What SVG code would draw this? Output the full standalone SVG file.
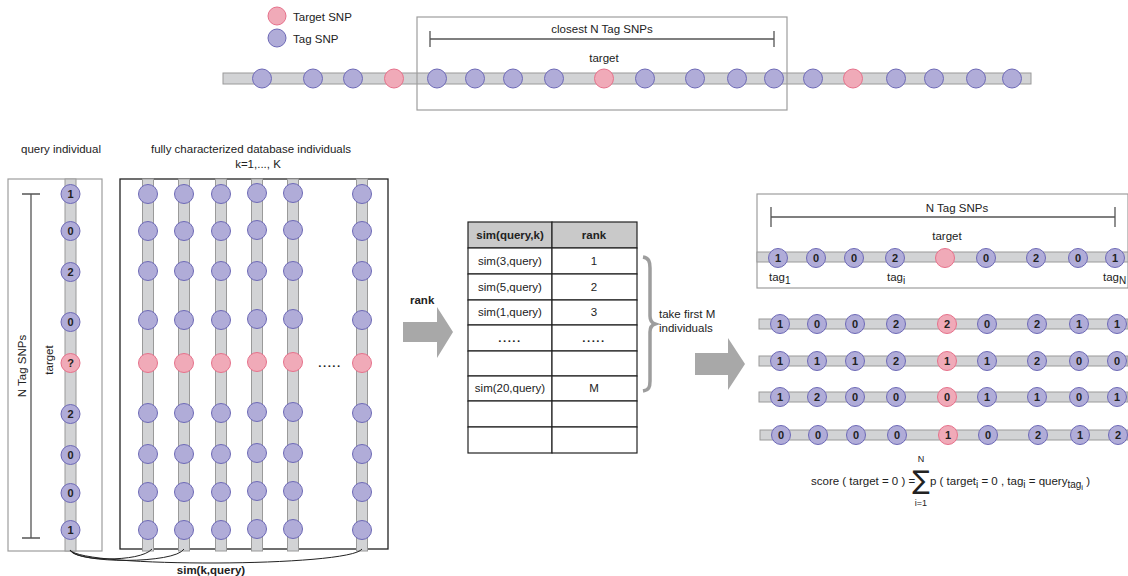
<svg xmlns="http://www.w3.org/2000/svg" width="1128" height="576" viewBox="0 0 1128 576">
<style>
text{font-family:"Liberation Sans",Arial,sans-serif;fill:#222;font-size:11.5px}
.bar{fill:#d2d3d5;stroke:#9a9a9a;stroke-width:1}
.tag{fill:#b0acd8;stroke:#6d69b6;stroke-width:1}
.tgt{fill:#f0aab8;stroke:#e6718b;stroke-width:1}
text.num{font-weight:bold;font-size:11px;text-anchor:middle}
.c{text-anchor:middle}
.b{font-weight:bold}
.gbox{fill:none;stroke:#9d9d9d;stroke-width:1.2}
.ln{fill:none;stroke:#555;stroke-width:1.3}
.cell{fill:#fff;stroke:#222;stroke-width:1.2}
.arrow{fill:#a8a8a8}
.sub{font-size:10px}
</style>
<rect width="1128" height="576" fill="#fff"/>

<g id="legend">
<circle class="tgt" cx="277" cy="16" r="9"/>
<text x="293" y="20.5">Target SNP</text>
<circle class="tag" cx="277" cy="38" r="9"/>
<text x="293" y="42.5">Tag SNP</text>
</g>

<g id="top-chromosome">
<rect class="bar" x="223" y="73" width="808" height="11"/>
<circle class="tag" cx="262" cy="78.5" r="9.5"/>
<circle class="tag" cx="313" cy="78.5" r="9.5"/>
<circle class="tag" cx="353" cy="78.5" r="9.5"/>
<circle class="tgt" cx="394" cy="78.5" r="9.5"/>
<circle class="tag" cx="437" cy="78.5" r="9.5"/>
<circle class="tag" cx="475" cy="78.5" r="9.5"/>
<circle class="tag" cx="513" cy="78.5" r="9.5"/>
<circle class="tag" cx="554" cy="78.5" r="9.5"/>
<circle class="tgt" cx="604" cy="78.5" r="9.5"/>
<circle class="tag" cx="645" cy="78.5" r="9.5"/>
<circle class="tag" cx="695" cy="78.5" r="9.5"/>
<circle class="tag" cx="737" cy="78.5" r="9.5"/>
<circle class="tag" cx="774" cy="78.5" r="9.5"/>
<circle class="tag" cx="813" cy="78.5" r="9.5"/>
<circle class="tgt" cx="853" cy="78.5" r="9.5"/>
<circle class="tag" cx="896" cy="78.5" r="9.5"/>
<circle class="tag" cx="934" cy="78.5" r="9.5"/>
<circle class="tag" cx="976" cy="78.5" r="9.5"/>
<circle class="tag" cx="1012" cy="78.5" r="9.5"/>
</g>

<g id="window">
<rect class="gbox" x="417" y="17" width="370" height="93"/>
<text class="c" x="602" y="33">closest N Tag SNPs</text>
<path class="ln" d="M430,39H774M430,31V47M774,31V47"/>
<text class="c" x="604" y="62">target</text>
</g>

<g id="query">
<text class="c" x="61" y="153">query individual</text>
<rect class="gbox" x="8" y="179" width="94" height="372"/>
<path class="ln" d="M31,194V538M22,194H40M22,538H40"/>
<text class="c" transform="translate(26,366) rotate(-90)">N Tag SNPs</text>
<text class="c" transform="translate(53,360) rotate(-90)">target</text>
<rect class="bar" x="65" y="179" width="11" height="372"/>
<circle class="tag" cx="70.5" cy="194" r="9.5"/><text class="num" x="70.5" y="198">1</text>
<circle class="tag" cx="70.5" cy="231" r="9.5"/><text class="num" x="70.5" y="235">0</text>
<circle class="tag" cx="70.5" cy="272" r="9.5"/><text class="num" x="70.5" y="276">2</text>
<circle class="tag" cx="70.5" cy="322" r="9.5"/><text class="num" x="70.5" y="326">0</text>
<circle class="tgt" cx="70.5" cy="363" r="9.5"/><text class="num" x="70.5" y="367">?</text>
<circle class="tag" cx="70.5" cy="414" r="9.5"/><text class="num" x="70.5" y="418">2</text>
<circle class="tag" cx="70.5" cy="455" r="9.5"/><text class="num" x="70.5" y="459">0</text>
<circle class="tag" cx="70.5" cy="493" r="9.5"/><text class="num" x="70.5" y="497">0</text>
<circle class="tag" cx="70.5" cy="530" r="9.5"/><text class="num" x="70.5" y="534">1</text>
</g>

<g id="database">
<text class="c" x="251" y="153">fully characterized database individuals</text>
<text class="c" x="258" y="168">k=1,..., K</text>
<rect x="120" y="179" width="268" height="370" fill="none" stroke="#222" stroke-width="1.3"/>
<g id="db-col1">
<rect class="bar" x="142.5" y="179" width="11" height="372"/>
<circle class="tag" cx="148" cy="194" r="9.5"/><circle class="tag" cx="148" cy="231" r="9.5"/><circle class="tag" cx="148" cy="271" r="9.5"/><circle class="tag" cx="148" cy="320" r="9.5"/><circle class="tgt" cx="148" cy="363" r="9.5"/><circle class="tag" cx="148" cy="413" r="9.5"/><circle class="tag" cx="148" cy="454" r="9.5"/><circle class="tag" cx="148" cy="492" r="9.5"/><circle class="tag" cx="148" cy="530" r="9.5"/>
</g>
<g id="db-col2">
<rect class="bar" x="178.5" y="179" width="11" height="372"/>
<circle class="tag" cx="184" cy="194" r="9.5"/><circle class="tag" cx="184" cy="231" r="9.5"/><circle class="tag" cx="184" cy="271" r="9.5"/><circle class="tag" cx="184" cy="320" r="9.5"/><circle class="tgt" cx="184" cy="363" r="9.5"/><circle class="tag" cx="184" cy="413" r="9.5"/><circle class="tag" cx="184" cy="454" r="9.5"/><circle class="tag" cx="184" cy="492" r="9.5"/><circle class="tag" cx="184" cy="530" r="9.5"/>
</g>
<g id="db-col3">
<rect class="bar" x="215.5" y="179" width="11" height="372"/>
<circle class="tag" cx="221" cy="194" r="9.5"/><circle class="tag" cx="221" cy="231" r="9.5"/><circle class="tag" cx="221" cy="271" r="9.5"/><circle class="tag" cx="221" cy="320" r="9.5"/><circle class="tgt" cx="221" cy="363" r="9.5"/><circle class="tag" cx="221" cy="413" r="9.5"/><circle class="tag" cx="221" cy="454" r="9.5"/><circle class="tag" cx="221" cy="492" r="9.5"/><circle class="tag" cx="221" cy="530" r="9.5"/>
</g>
<g id="db-col4">
<rect class="bar" x="251.5" y="179" width="11" height="372"/>
<circle class="tag" cx="257" cy="193" r="9.5"/><circle class="tag" cx="257" cy="230" r="9.5"/><circle class="tag" cx="257" cy="271" r="9.5"/><circle class="tag" cx="257" cy="319" r="9.5"/><circle class="tgt" cx="257" cy="362" r="9.5"/><circle class="tag" cx="257" cy="412" r="9.5"/><circle class="tag" cx="257" cy="453" r="9.5"/><circle class="tag" cx="257" cy="491" r="9.5"/><circle class="tag" cx="257" cy="529" r="9.5"/>
</g>
<g id="db-col5">
<rect class="bar" x="287.5" y="179" width="11" height="372"/>
<circle class="tag" cx="293" cy="193" r="9.5"/><circle class="tag" cx="293" cy="230" r="9.5"/><circle class="tag" cx="293" cy="271" r="9.5"/><circle class="tag" cx="293" cy="319" r="9.5"/><circle class="tgt" cx="293" cy="362" r="9.5"/><circle class="tag" cx="293" cy="412" r="9.5"/><circle class="tag" cx="293" cy="453" r="9.5"/><circle class="tag" cx="293" cy="491" r="9.5"/><circle class="tag" cx="293" cy="529" r="9.5"/>
</g>
<g id="db-colK">
<rect class="bar" x="356.5" y="179" width="11" height="372"/>
<circle class="tag" cx="362" cy="194" r="9.5"/><circle class="tag" cx="362" cy="231" r="9.5"/><circle class="tag" cx="362" cy="271" r="9.5"/><circle class="tag" cx="362" cy="320" r="9.5"/><circle class="tgt" cx="362" cy="363" r="9.5"/><circle class="tag" cx="362" cy="413" r="9.5"/><circle class="tag" cx="362" cy="454" r="9.5"/><circle class="tag" cx="362" cy="492" r="9.5"/><circle class="tag" cx="362" cy="530" r="9.5"/>
</g>
<text class="c b" x="330" y="367" style="letter-spacing:1.5px">.....</text>
</g>

<g id="connectors">
<path d="M70,550C74,561 140,563 152,549" fill="none" stroke="#222" stroke-width="1"/>
<path d="M70,550C78,564 175,564 184,549" fill="none" stroke="#222" stroke-width="1"/>
<path d="M70,550C82,568 350,567 362,549" fill="none" stroke="#222" stroke-width="1"/>
</g>
<text class="c b" x="211" y="574">sim(k,query)</text>

<g id="rank-arrow">
<text class="b" x="410" y="304">rank</text>
<path class="arrow" d="M403,322H437V307L453,332L437,358V342H403Z"/>
</g>

<g id="table">
<rect x="468" y="222" width="84" height="26" fill="#c9c9c9" stroke="#222" stroke-width="1.2"/>
<rect x="552" y="222" width="85" height="26" fill="#c9c9c9" stroke="#222" stroke-width="1.2"/>
<text class="c b" x="510" y="239">sim(query,k)</text>
<text class="c b" x="594" y="239">rank</text>
<rect class="cell" x="468" y="248" width="84" height="26"/><rect class="cell" x="552" y="248" width="85" height="26"/>
<rect class="cell" x="468" y="274" width="84" height="26"/><rect class="cell" x="552" y="274" width="85" height="26"/>
<rect class="cell" x="468" y="300" width="84" height="25"/><rect class="cell" x="552" y="300" width="85" height="25"/>
<rect class="cell" x="468" y="325" width="84" height="26"/><rect class="cell" x="552" y="325" width="85" height="26"/>
<rect class="cell" x="468" y="351" width="84" height="25"/><rect class="cell" x="552" y="351" width="85" height="25"/>
<rect class="cell" x="468" y="376" width="84" height="25"/><rect class="cell" x="552" y="376" width="85" height="25"/>
<rect class="cell" x="468" y="401" width="84" height="26"/><rect class="cell" x="552" y="401" width="85" height="26"/>
<rect class="cell" x="468" y="427" width="84" height="26"/><rect class="cell" x="552" y="427" width="85" height="26"/>
<text class="c" x="510" y="265">sim(3,query)</text><text class="c" x="594" y="265">1</text>
<text class="c" x="510" y="291">sim(5,query)</text><text class="c" x="594" y="291">2</text>
<text class="c" x="510" y="316">sim(1,query)</text><text class="c" x="594" y="316">3</text>
<text class="c b" x="510" y="342" style="letter-spacing:1.5px">.....</text><text class="c b" x="594" y="342" style="letter-spacing:1.5px">.....</text>
<text class="c" x="510" y="392">sim(20,query)</text><text class="c" x="594" y="392">M</text>
</g>

<g id="brace">
<path d="M643,257C649,258 650,262 650,268V316C650,321 652,323 655,324C652,325 650,327 650,332V381C650,387 649,390 643,391" fill="none" stroke="#9d9d9d" stroke-width="3.5"/>
<text x="659" y="318">take first M</text>
<text x="659" y="332">individuals</text>
</g>

<g id="select-arrow">
<path class="arrow" d="M695,353H728V338L745,364L728,390V375H695Z"/>
</g>

<g id="query-window">
<rect class="gbox" x="757" y="194" width="371" height="94"/>
<text class="c" x="957" y="212">N Tag SNPs</text>
<path class="ln" d="M771,217H1115M771,207V227M1115,207V227"/>
<text class="c" x="947" y="240">target</text>
<rect class="bar" x="757" y="252" width="371" height="10"/>
<circle class="tag" cx="778" cy="258" r="9.5"/><text class="num" x="778" y="262">1</text>
<circle class="tag" cx="816" cy="258" r="9.5"/><text class="num" x="816" y="262">0</text>
<circle class="tag" cx="854" cy="258" r="9.5"/><text class="num" x="854" y="262">0</text>
<circle class="tag" cx="895" cy="258" r="9.5"/><text class="num" x="895" y="262">2</text>
<circle class="tgt" cx="945" cy="258" r="9.5"/>
<circle class="tag" cx="986" cy="258" r="9.5"/><text class="num" x="986" y="262">0</text>
<circle class="tag" cx="1036" cy="258" r="9.5"/><text class="num" x="1036" y="262">2</text>
<circle class="tag" cx="1078" cy="258" r="9.5"/><text class="num" x="1078" y="262">0</text>
<circle class="tag" cx="1115" cy="258" r="9.5"/><text class="num" x="1115" y="262">1</text>
<text x="769" y="281">tag<tspan dy="3" class="sub">1</tspan></text>
<text x="887" y="281">tag<tspan dy="3" class="sub">i</tspan></text>
<text x="1103" y="281">tag<tspan dy="3" class="sub">N</tspan></text>
</g>

<g id="neighbours">
<g id="nb1">
<rect class="bar" x="759" y="319" width="369" height="10"/>
<circle class="tag" cx="780" cy="324" r="9.5"/><text class="num" x="780" y="328">1</text>
<circle class="tag" cx="817" cy="324" r="9.5"/><text class="num" x="817" y="328">0</text>
<circle class="tag" cx="855" cy="324" r="9.5"/><text class="num" x="855" y="328">0</text>
<circle class="tag" cx="896" cy="324" r="9.5"/><text class="num" x="896" y="328">2</text>
<circle class="tgt" cx="947" cy="324" r="9.5"/><text class="num" x="947" y="328">2</text>
<circle class="tag" cx="987" cy="324" r="9.5"/><text class="num" x="987" y="328">0</text>
<circle class="tag" cx="1037" cy="324" r="9.5"/><text class="num" x="1037" y="328">2</text>
<circle class="tag" cx="1079" cy="324" r="9.5"/><text class="num" x="1079" y="328">1</text>
<circle class="tag" cx="1117" cy="324" r="9.5"/><text class="num" x="1117" y="328">1</text>
</g>
<g id="nb2">
<rect class="bar" x="759" y="356" width="369" height="10"/>
<circle class="tag" cx="780" cy="361" r="9.5"/><text class="num" x="780" y="365">1</text>
<circle class="tag" cx="817" cy="361" r="9.5"/><text class="num" x="817" y="365">1</text>
<circle class="tag" cx="855" cy="361" r="9.5"/><text class="num" x="855" y="365">1</text>
<circle class="tag" cx="896" cy="361" r="9.5"/><text class="num" x="896" y="365">2</text>
<circle class="tgt" cx="947" cy="361" r="9.5"/><text class="num" x="947" y="365">1</text>
<circle class="tag" cx="987" cy="361" r="9.5"/><text class="num" x="987" y="365">1</text>
<circle class="tag" cx="1037" cy="361" r="9.5"/><text class="num" x="1037" y="365">2</text>
<circle class="tag" cx="1079" cy="361" r="9.5"/><text class="num" x="1079" y="365">0</text>
<circle class="tag" cx="1117" cy="361" r="9.5"/><text class="num" x="1117" y="365">0</text>
</g>
<g id="nb3">
<rect class="bar" x="759" y="392" width="369" height="10"/>
<circle class="tag" cx="780" cy="397" r="9.5"/><text class="num" x="780" y="401">1</text>
<circle class="tag" cx="817" cy="397" r="9.5"/><text class="num" x="817" y="401">2</text>
<circle class="tag" cx="855" cy="397" r="9.5"/><text class="num" x="855" y="401">0</text>
<circle class="tag" cx="896" cy="397" r="9.5"/><text class="num" x="896" y="401">0</text>
<circle class="tgt" cx="947" cy="397" r="9.5"/><text class="num" x="947" y="401">0</text>
<circle class="tag" cx="987" cy="397" r="9.5"/><text class="num" x="987" y="401">1</text>
<circle class="tag" cx="1037" cy="397" r="9.5"/><text class="num" x="1037" y="401">1</text>
<circle class="tag" cx="1079" cy="397" r="9.5"/><text class="num" x="1079" y="401">0</text>
<circle class="tag" cx="1117" cy="397" r="9.5"/><text class="num" x="1117" y="401">1</text>
</g>
<g id="nb4">
<rect class="bar" x="760" y="430" width="368" height="10"/>
<circle class="tag" cx="781" cy="435" r="9.5"/><text class="num" x="781" y="439">0</text>
<circle class="tag" cx="818" cy="435" r="9.5"/><text class="num" x="818" y="439">0</text>
<circle class="tag" cx="856" cy="435" r="9.5"/><text class="num" x="856" y="439">0</text>
<circle class="tag" cx="897" cy="435" r="9.5"/><text class="num" x="897" y="439">0</text>
<circle class="tgt" cx="948" cy="435" r="9.5"/><text class="num" x="948" y="439">1</text>
<circle class="tag" cx="988" cy="435" r="9.5"/><text class="num" x="988" y="439">0</text>
<circle class="tag" cx="1038" cy="435" r="9.5"/><text class="num" x="1038" y="439">2</text>
<circle class="tag" cx="1080" cy="435" r="9.5"/><text class="num" x="1080" y="439">1</text>
<circle class="tag" cx="1118" cy="435" r="9.5"/><text class="num" x="1118" y="439">2</text>
</g>
</g>

<g id="formula">
<text x="811" y="485">score ( target = 0 ) =</text>
<text class="c" x="921" y="489" style="font-family:'DejaVu Sans',sans-serif;font-size:26px">∑</text>
<text class="c" x="921" y="462" style="font-size:9px">N</text>
<text class="c" x="921" y="506" style="font-size:9px">i=1</text>
<text x="930" y="485">p ( target<tspan dy="3" class="sub">i</tspan><tspan dy="-3"> = 0 , tag</tspan><tspan dy="3" class="sub">i</tspan><tspan dy="-3"> = query</tspan><tspan dy="3" class="sub">tag</tspan><tspan dy="2" style="font-size:8px">i</tspan><tspan dy="-5"> )</tspan></text>
</g>
</svg>
